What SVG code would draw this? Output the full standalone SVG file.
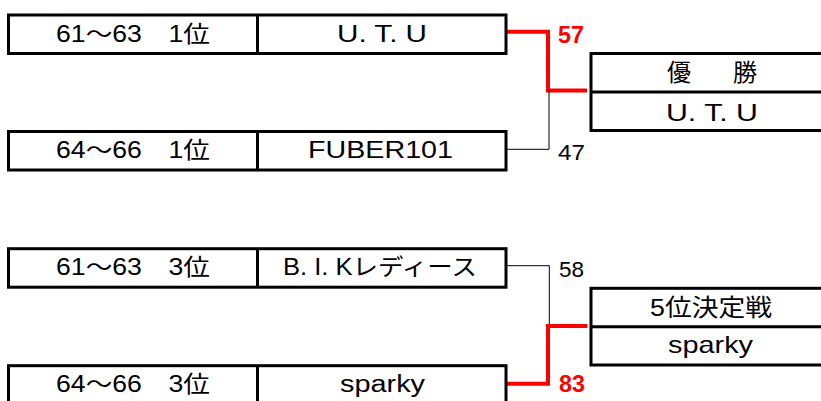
<svg xmlns="http://www.w3.org/2000/svg" width="821" height="401" viewBox="0 0 821 401">
<style>
.box{fill:#fff;stroke:#000;stroke-width:3}
.div{stroke:#000;stroke-width:3}
.t{font-family:"Liberation Sans","Noto Sans CJK JP",sans-serif;font-size:23px;fill:#000}
.tr{font-family:"Liberation Sans","Noto Sans CJK JP",sans-serif;font-size:24px;fill:#000}
.win{fill:none;stroke:#ff0000;stroke-width:4}
.lose{fill:none;stroke:#000;stroke-width:1}
.sc{font-family:"Liberation Sans",sans-serif;font-size:22px;fill:#000}
.scw{font-family:"Liberation Sans",sans-serif;font-size:23px;font-weight:bold;fill:#ff0000}
</style>
<rect width="821" height="401" fill="#fff"/>
<g id="connectors">
<polyline class="win" points="506,31.7 548,31.7 548,90.5 587,90.5"/>
<polyline class="lose" points="506,149.3 549,149.3 549,90.5"/>
<polyline class="lose" points="506,265.7 549.3,265.7 549.3,326"/>
<polyline class="win" points="506,383.7 548,383.7 548,326 587.3,326"/>
<text class="scw" x="558" y="43" textLength="26" lengthAdjust="spacingAndGlyphs">57</text>
<text class="sc" x="558" y="159.5" textLength="27" lengthAdjust="spacingAndGlyphs">47</text>
<text class="sc" x="559" y="277" textLength="25" lengthAdjust="spacingAndGlyphs">58</text>
<text class="scw" x="559" y="392" textLength="26" lengthAdjust="spacingAndGlyphs">83</text>
</g>
<g id="team1">
<rect class="box" x="8.5" y="15" width="497.5" height="38.5"/>
<line class="div" x1="257.5" y1="15" x2="257.5" y2="53.5"/>
<text class="t" x="56" y="41.7" textLength="154" lengthAdjust="spacingAndGlyphs">61～63　1位</text>
<text class="t" x="337" y="41.7" textLength="90" lengthAdjust="spacingAndGlyphs">U. T. U</text>
</g>
<g id="team2">
<rect class="box" x="8.5" y="131.5" width="497.5" height="38.5"/>
<line class="div" x1="257.5" y1="131.5" x2="257.5" y2="170"/>
<text class="t" x="56" y="158.2" textLength="154" lengthAdjust="spacingAndGlyphs">64～66　1位</text>
<text class="t" x="308" y="158.2" textLength="145" lengthAdjust="spacingAndGlyphs">FUBER101</text>
</g>
<g id="final">
<rect class="box" x="591" y="53.5" width="260" height="77"/>
<line class="div" x1="591" y1="92" x2="851" y2="92"/>
<text class="tr" x="667" y="81" textLength="90" lengthAdjust="spacing">優　勝</text>
<text class="tr" x="666" y="121" textLength="92" lengthAdjust="spacingAndGlyphs">U. T. U</text>
</g>
<g id="team3">
<rect class="box" x="8.5" y="248.7" width="497.5" height="38.5"/>
<line class="div" x1="257.5" y1="248.7" x2="257.5" y2="287.2"/>
<text class="t" x="56" y="275.4" textLength="154" lengthAdjust="spacingAndGlyphs">61～63　3位</text>
<text class="t" x="283" y="275.4" textLength="194" lengthAdjust="spacingAndGlyphs">B. I. Kレディース</text>
</g>
<g id="team4">
<rect class="box" x="8.5" y="365.7" width="497.5" height="38.5"/>
<line class="div" x1="257.5" y1="365.7" x2="257.5" y2="404.2"/>
<text class="t" x="56" y="392.4" textLength="154" lengthAdjust="spacingAndGlyphs">64～66　3位</text>
<text class="t" x="340" y="392.4" textLength="85" lengthAdjust="spacingAndGlyphs">sparky</text>
</g>
<g id="fifth">
<rect class="box" x="591" y="288.3" width="260" height="76.7"/>
<line class="div" x1="591" y1="326.8" x2="851" y2="326.8"/>
<text class="tr" x="650" y="315.5" textLength="122" lengthAdjust="spacingAndGlyphs">5位決定戦</text>
<text class="tr" x="668" y="352.7" textLength="85" lengthAdjust="spacingAndGlyphs">sparky</text>
</g>
</svg>
